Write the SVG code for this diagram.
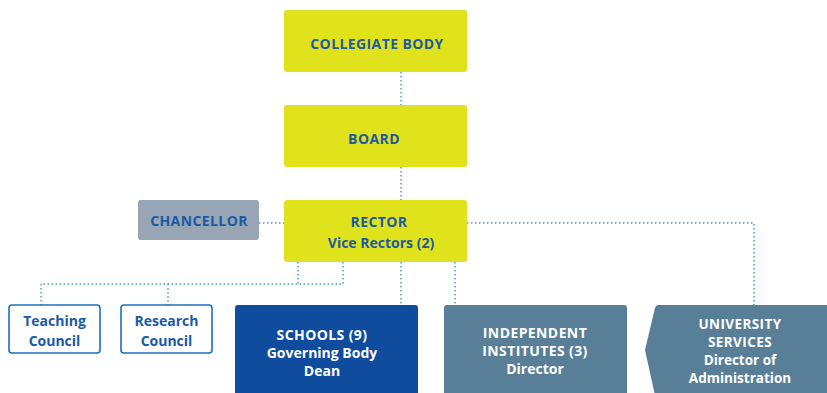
<svg xmlns="http://www.w3.org/2000/svg" width="827" height="393" viewBox="0 0 827 393">
  <style>
    .yellow { fill: #e0e31b; }
    .grey { fill: #97a5b4; }
    .outline { fill: #ffffff; stroke: #1d6fc0; stroke-width: 1.6; }
    .navy { fill: #0f4c9d; }
    .slate { fill: #587f97; }
    .t { font-family: "Open Sans", Lato, "Liberation Sans", sans-serif; font-weight: 700; text-anchor: middle; }
    .caps { letter-spacing: 0.4px; }
    .dark { fill: #1c5aa3; }
    .light { fill: #ffffff; }
    .link { fill: none; stroke: #4a9ad6; stroke-width: 1.5; stroke-dasharray: 1.5 2.5; }
  </style>

  <g id="connectors">
    <path class="link" d="M401 72 V105"/>
    <path class="link" d="M401 167 V200"/>
    <path class="link" d="M259 223 H284"/>
    <path class="link" d="M467 223 H754 V305"/>
    <path class="link" d="M298 262 V284"/>
    <path class="link" d="M343 262 V284 H41 V305"/>
    <path class="link" d="M168 284 V305"/>
    <path class="link" d="M401 262 V305"/>
    <path class="link" d="M455 262 V305"/>
  </g>

  <g id="collegiate-body">
    <rect class="yellow" x="284" y="10" width="183" height="62" rx="3"/>
    <text class="t dark caps" x="377" y="49" font-size="14">COLLEGIATE BODY</text>
  </g>

  <g id="board">
    <rect class="yellow" x="284" y="105" width="183" height="62" rx="3"/>
    <text class="t dark caps" x="374" y="144" font-size="14">BOARD</text>
  </g>

  <g id="rector">
    <rect class="yellow" x="284" y="200" width="183" height="62" rx="3"/>
    <text class="t dark caps" x="379" y="227" font-size="14">RECTOR</text>
    <text class="t dark" x="381" y="248" font-size="14">Vice Rectors (2)</text>
  </g>

  <g id="chancellor">
    <rect class="grey" x="138" y="200" width="121" height="40" rx="3"/>
    <text class="t dark caps" x="199" y="226" font-size="14">CHANCELLOR</text>
  </g>

  <g id="teaching-council">
    <rect class="outline" x="9" y="305" width="91" height="48" rx="3"/>
    <text class="t dark" x="54.5" y="326" font-size="14">Teaching</text>
    <text class="t dark" x="54.5" y="346" font-size="14">Council</text>
  </g>

  <g id="research-council">
    <rect class="outline" x="121" y="305" width="91" height="48" rx="3"/>
    <text class="t dark" x="166.5" y="326" font-size="14">Research</text>
    <text class="t dark" x="166.5" y="346" font-size="14">Council</text>
  </g>

  <g id="schools">
    <rect class="navy" x="235" y="305" width="183" height="95" rx="3"/>
    <text class="t light caps" x="322" y="340" font-size="14">SCHOOLS (9)</text>
    <text class="t light" x="322" y="358" font-size="14">Governing Body</text>
    <text class="t light" x="322" y="376" font-size="14">Dean</text>
  </g>

  <g id="independent-institutes">
    <rect class="slate" x="444" y="305" width="183" height="95" rx="3"/>
    <text class="t light caps" x="535" y="338" font-size="14">INDEPENDENT</text>
    <text class="t light caps" x="535" y="356" font-size="14">INSTITUTES (3)</text>
    <text class="t light" x="535" y="374" font-size="14">Director</text>
  </g>

  <g id="university-services">
    <path class="slate" d="M658 305 H830 V400 H656 L645 350 L655 308 Q656 305 658 305 Z"/>
    <text class="t light caps" x="740" y="329" font-size="13.5">UNIVERSITY</text>
    <text class="t light caps" x="740" y="347" font-size="13.5">SERVICES</text>
    <text class="t light" x="740" y="365" font-size="13.5">Director of</text>
    <text class="t light" x="740" y="383" font-size="13.5">Administration</text>
  </g>
</svg>
